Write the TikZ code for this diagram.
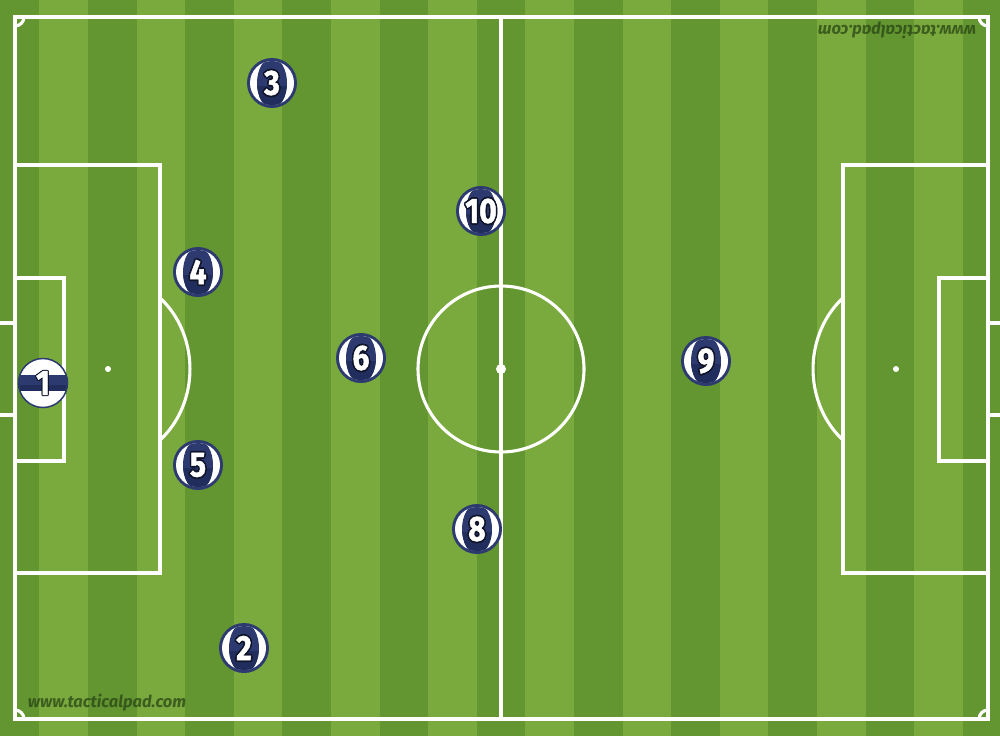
\documentclass[tikz,border=0pt]{standalone}
\usepackage{fontspec}
\setmainfont{Fira Sans}
\newfontfamily\numfont{Fira Sans}[BoldFeatures={FakeBold=1.5}]
\usetikzlibrary{calc}
\definecolor{grassL}{RGB}{122,170,62}
\definecolor{grassD}{RGB}{99,150,48}
\definecolor{navy}{RGB}{44,58,112}
\definecolor{navyD}{RGB}{33,45,93}
\definecolor{outl}{RGB}{15,20,40}
\definecolor{wmc}{RGB}{40,68,20}
\newcommand\onum[2][1.5pt]{\begingroup\setbox0\hbox{#2}%
\def\cp##1##2{\rlap{\kern##1\raisebox{##2}{\color{outl}\copy0}}}%
\cp{\dimexpr-#1\relax}{0pt}\cp{#1}{0pt}\cp{0pt}{#1}\cp{0pt}{\dimexpr-#1\relax}%
\cp{\dimexpr-#1*7/10\relax}{\dimexpr#1*7/10\relax}\cp{\dimexpr#1*7/10\relax}{\dimexpr#1*7/10\relax}%
\cp{\dimexpr-#1*7/10\relax}{\dimexpr-#1*7/10\relax}\cp{\dimexpr#1*7/10\relax}{\dimexpr-#1*7/10\relax}%
\color{white}\copy0\endgroup}
\newcommand\pnum[2][1.8pt]{\scalebox{0.86}[1]{\onum[#1]{#2}}}
\tikzset{
  pline/.style={white, line width=3.1pt},
  player/.style={circle, minimum size=50pt, inner sep=0pt, fill=navy,
    font=\numfont\bfseries\fontsize{35}{35}\selectfont, text=white,
    path picture={
      \fill[white] (path picture bounding box.center) circle[radius=22pt];
      \begin{scope}
        \clip (path picture bounding box.center) circle[radius=22pt];
        \clip (path picture bounding box.center) ellipse[x radius=15pt, y radius=25pt];
        \fill[navy] ($(path picture bounding box.center)+(-30pt,-30pt)$) rectangle ++(60pt,60pt);
        \fill[navyD] ($(path picture bounding box.center)+(-30pt,-3pt)$) rectangle ++(60pt,-30pt);
      \end{scope}
    }},
  keeper/.style={circle, minimum size=49pt, inner sep=0pt, fill=white, draw=navy, line width=1.5pt,
    font=\numfont\bfseries\fontsize{35}{35}\selectfont, text=white,
    path picture={
      \fill[navy] ($(path picture bounding box.center)+(-30pt,8pt)$) rectangle ++(60pt,-16pt);
      \fill[navyD] ($(path picture bounding box.center)+(-30pt,-2pt)$) rectangle ++(60pt,-6pt);
    }},
  wmark/.style={font=\bfseries\itshape\fontsize{16.5}{16.5}\selectfont, text=wmc, text opacity=0.75, inner sep=0pt}
}
\begin{document}
\begin{tikzpicture}[x=1pt,y=-1pt]
\useasboundingbox (0,0) rectangle (1000,736);
\clip (0,0) rectangle (1000,736);
% grass
\fill[grassL] (0,0) rectangle (1000,736);
\foreach \k in {-5,...,5} \fill[grassD] ({501+97.2*\k-24.3},0) rectangle ({501+97.2*\k+24.3},736);
% pitch lines
\draw[pline] (15,17) rectangle (988,719);
\draw[pline] (501,17) -- (501,719);
\draw[pline] (501,369) circle[radius=83];
\fill[white] (501,369) circle[radius=5];
% left end
\draw[pline] (15,165) -- (160,165) -- (160,573) -- (15,573);
\draw[pline] (15,278) -- (64,278) -- (64,461) -- (15,461);
\fill[white] (108,369) circle[radius=3];
\draw[pline] (160,297.9) arc[start angle=-50.6, end angle=50.6, x radius=82, y radius=92];
\draw[pline] (15,323) -- (-6,323) -- (-6,415) -- (15,415);
% right end
\draw[pline] (988,165) -- (843,165) -- (843,573) -- (988,573);
\draw[pline] (988,278) -- (939,278) -- (939,461) -- (988,461);
\fill[white] (896,369) circle[radius=3];
\draw[pline] (843,297.9) arc[start angle=230.6, end angle=129.4, x radius=82, y radius=92];
\draw[pline] (988,323) -- (1006,323) -- (1006,415) -- (988,415);
% corners
\draw[pline] (24,17) arc[start angle=0, end angle=90, radius=9];
\draw[pline] (979,17) arc[start angle=180, end angle=90, radius=9];
\draw[pline] (24,719) arc[start angle=0, end angle=-90, radius=9];
\draw[pline] (979,719) arc[start angle=180, end angle=270, radius=9];
% watermarks
\node[wmark] (wm1) at (107,703) {www.tacticalpad.com};
\node[wmark, rotate=180] (wm2) at (897,30) {www.tacticalpad.com};
% players
\node[keeper] (p1) at (43,383) {\pnum[1.1pt]{1}};
\node[player] (p2) at (244,648) {\pnum{2}};
\node[player] (p3) at (272,83) {\pnum{3}};
\node[player] (p4) at (198,272) {\pnum{4}};
\node[player] (p5) at (198,465) {\pnum{5}};
\node[player] (p6) at (361,358) {\pnum{6}};
\node[player] (p8) at (477,529) {\pnum{8}};
\node[player] (p9) at (706,361) {\pnum{9}};
\node[player] (p10) at (481,211) {\pnum{10}};
\end{tikzpicture}
\end{document}
